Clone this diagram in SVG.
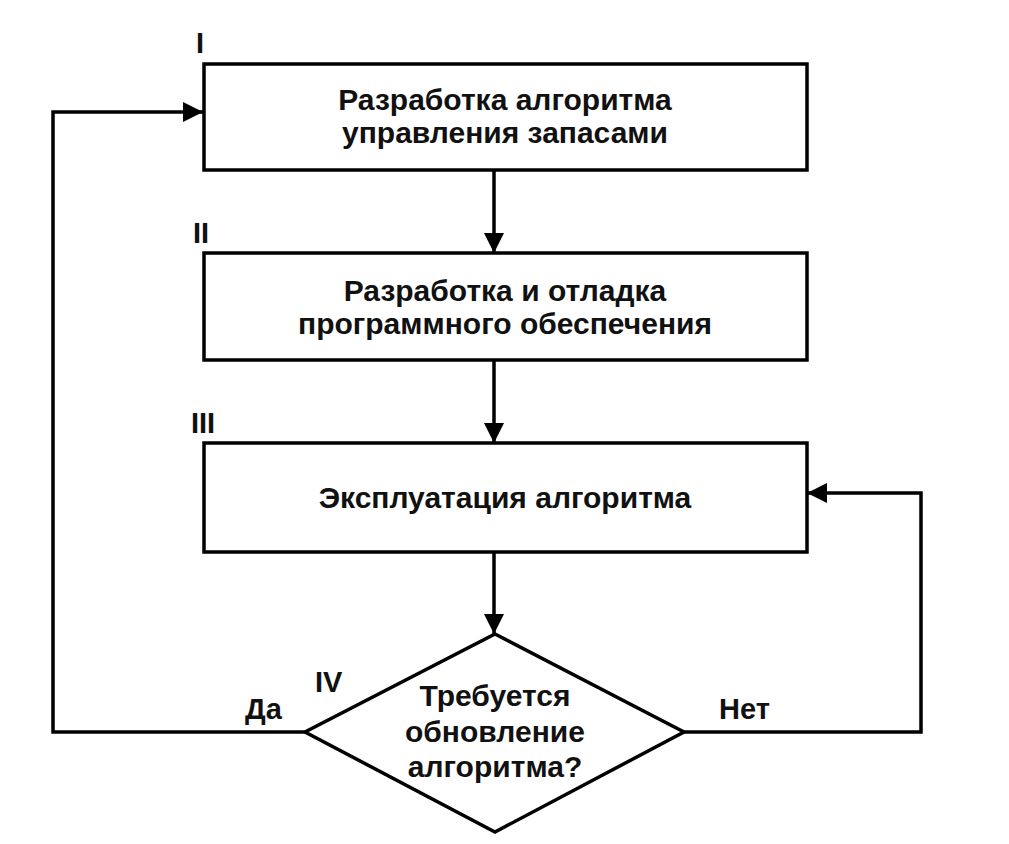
<svg xmlns="http://www.w3.org/2000/svg" width="1009" height="844" viewBox="0 0 1009 844">
<style>
.box{fill:none;stroke:#000;stroke-width:3.5}
.ln{fill:none;stroke:#000;stroke-width:3.5}
.t{font-family:"Liberation Sans",Arial,sans-serif;font-size:30px;font-weight:bold;fill:#111;text-anchor:middle}
.lb{font-family:"Liberation Sans",Arial,sans-serif;font-size:29px;font-weight:bold;fill:#111}
</style>
<defs>
<marker id="ah" viewBox="0 0 20 20" refX="20" refY="10" markerWidth="20" markerHeight="20" markerUnits="userSpaceOnUse" orient="auto">
<path d="M0,0 L20,10 L0,20 Z" fill="#000"/>
</marker>
</defs>
<rect width="1009" height="844" fill="#fff"/>
<g id="connectors">
<line class="ln" x1="494" y1="170" x2="494" y2="253" marker-end="url(#ah)"/>
<line class="ln" x1="494" y1="360" x2="494" y2="443" marker-end="url(#ah)"/>
<line class="ln" x1="494" y1="552" x2="494" y2="634" marker-end="url(#ah)"/>
<polyline class="ln" points="305,732 53,732 53,112 203,112" marker-end="url(#ah)"/>
<polyline class="ln" points="684,732 921,732 921,493 807,493" marker-end="url(#ah)"/>
<text class="lb" x="245" y="719">Да</text>
<text class="lb" x="719" y="719">Нет</text>
</g>
<g id="node1">
<rect class="box" x="204" y="64" width="603" height="106"/>
<text class="lb" x="196" y="53">I</text>
<text class="t" x="505" y="110">Разработка алгоритма</text>
<text class="t" x="505" y="143">управления запасами</text>
</g>
<g id="node2">
<rect class="box" x="204" y="253" width="603" height="107"/>
<text class="lb" x="193" y="243">II</text>
<text class="t" x="505" y="301">Разработка и отладка</text>
<text class="t" x="505" y="334">программного обеспечения</text>
</g>
<g id="node3">
<rect class="box" x="204" y="443" width="603" height="109"/>
<text class="lb" x="191" y="433">III</text>
<text class="t" x="505" y="508">Эксплуатация алгоритма</text>
</g>
<g id="node4">
<polygon class="box" points="495,634 684,732 495,832 305,732"/>
<text class="lb" x="315" y="692">IV</text>
<text class="t" x="495" y="706">Требуется</text>
<text class="t" x="495" y="742">обновление</text>
<text class="t" x="495" y="777">алгоритма?</text>
</g>
</svg>
